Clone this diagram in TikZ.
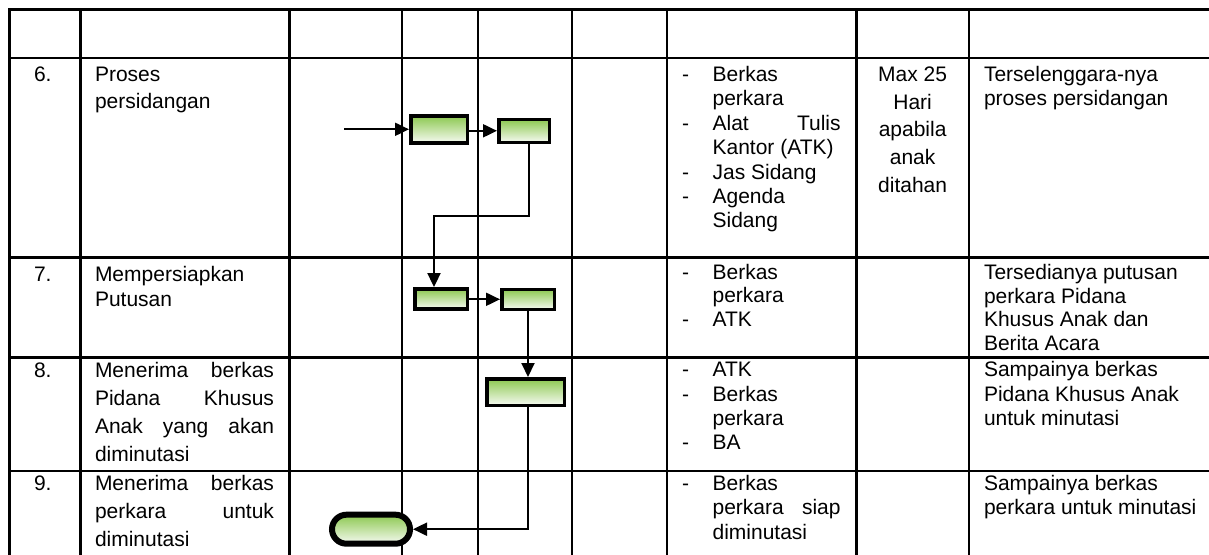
\documentclass[tikz,border=0pt]{standalone}
\usepackage{fontspec}
\setmainfont{Liberation Sans}
\usetikzlibrary{arrows.meta,shapes.misc}
\definecolor{boxgreen}{RGB}{140,200,80}
\definecolor{boxlight}{RGB}{246,250,242}
\tikzset{
  gridline/.style={line width=2.6pt, line cap=rect, line join=miter},
  txt/.style={anchor=base west, inner sep=0pt, outer sep=0pt},
  ctr/.style={anchor=base, inner sep=0pt, outer sep=0pt},
  procbox/.style={draw=black, line width=3.5pt, top color=boxgreen, bottom color=boxlight, inner sep=0pt},
  termbox/.style={draw=black, line width=6pt, top color=boxgreen, bottom color=boxlight, rounded rectangle, inner sep=0pt},
  conn/.style={line width=2pt, -{Triangle[length=14pt,width=13pt]}},
}
\begin{document}
\begin{tikzpicture}[x=1pt,y=-1pt,font=\fontsize{21}{24.5}\selectfont]
\useasboundingbox (0,0) rectangle (1209,554);
% table grid
\draw[gridline] (1215,9.3) -- (9.6,9.3) -- (9.6,560);
\foreach \yy in {58,257.3,357.3,471}{\draw[gridline] (9.6,\yy) -- (1215,\yy);}
\foreach \xx in {80.7,289.3,401.8,478,572,666.8,856.3,969}{\draw[gridline] (\xx,9.3) -- (\xx,560);}

% row 6
\node[txt] (n6) at (34,81.5) {6.};
\node[txt] (a6a) at (95,81.5) {Proses};
\node[txt] (a6b) at (95,108) {persidangan};
\node[txt] (d6a) at (682,81.5) {-};
\node[txt] (r6a) at (712.6,81.5) {Berkas};
\node[txt] (r6b) at (712.6,105.9) {perkara};
\node[txt] (d6b) at (682,130.3) {-};
\node[txt] (r6c) at (712.6,130.3) {\makebox[128pt][s]{Alat Tulis}};
\node[txt] (r6d) at (712.6,154.7) {Kantor (ATK)};
\node[txt] (d6c) at (682,179.1) {-};
\node[txt] (r6e) at (712.6,179.1) {Jas Sidang};
\node[txt] (d6d) at (682,203.5) {-};
\node[txt] (r6f) at (712.6,203.5) {Agenda};
\node[txt] (r6g) at (712.6,227.9) {Sidang};
\node[ctr] (m6a) at (912.6,81.5) {Max 25};
\node[ctr] (m6b) at (912.6,109) {Hari};
\node[ctr] (m6c) at (912.6,136.5) {apabila};
\node[ctr] (m6d) at (912.6,164) {anak};
\node[ctr] (m6e) at (912.6,192) {ditahan};
\node[txt] (o6a) at (984,81.5) {Terselenggara-nya};
\node[txt] (o6b) at (984,105.5) {proses persidangan};

% row 7
\node[txt] (n7) at (34,281) {7.};
\node[txt] (a7a) at (95,281) {Mempersiapkan};
\node[txt] (a7b) at (95,306.7) {Putusan};
\node[txt] (d7a) at (682,279.5) {-};
\node[txt] (r7a) at (712.6,279.5) {Berkas};
\node[txt] (r7b) at (712.6,302.8) {perkara};
\node[txt] (d7b) at (682,326) {-};
\node[txt] (r7c) at (712.6,326) {ATK};
\node[txt] (o7a) at (984,279.5) {Tersedianya putusan};
\node[txt] (o7b) at (984,303) {perkara Pidana};
\node[txt] (o7c) at (984,326.5) {Khusus Anak dan};
\node[txt] (o7d) at (984,350) {Berita Acara};

% row 8
\node[txt] (n8) at (34,377) {8.};
\node[txt] (a8a) at (95,377) {\makebox[179pt][s]{Menerima berkas}};
\node[txt] (a8b) at (95,405) {\makebox[179pt][s]{Pidana Khusus}};
\node[txt] (a8c) at (95,433) {\makebox[179pt][s]{Anak yang akan}};
\node[txt] (a8d) at (95,461) {diminutasi};
\node[txt] (d8a) at (682,376.7) {-};
\node[txt] (r8a) at (712.6,376.7) {ATK};
\node[txt] (d8b) at (682,401) {-};
\node[txt] (r8b) at (712.6,401) {Berkas};
\node[txt] (r8c) at (712.6,425.3) {perkara};
\node[txt] (d8c) at (682,449.6) {-};
\node[txt] (r8d) at (712.6,449.6) {BA};
\node[txt] (o8a) at (984,376.7) {Sampainya berkas};
\node[txt] (o8b) at (984,401) {Pidana Khusus Anak};
\node[txt] (o8c) at (984,425.3) {untuk minutasi};

% row 9
\node[txt] (n9) at (34,490) {9.};
\node[txt] (a9a) at (95,490) {\makebox[179pt][s]{Menerima berkas}};
\node[txt] (a9b) at (95,518) {\makebox[179pt][s]{perkara untuk}};
\node[txt] (a9c) at (95,546) {diminutasi};
\node[txt] (d9a) at (682,490) {-};
\node[txt] (r9a) at (712.6,490) {Berkas};
\node[txt] (r9b) at (712.6,514.5) {\makebox[128pt][s]{perkara siap}};
\node[txt] (r9c) at (712.6,539) {diminutasi};
\node[txt] (o9a) at (984,490) {Sampainya berkas};
\node[txt] (o9b) at (984,514.5) {perkara untuk minutasi};

% flow boxes
\node[procbox, minimum width=56.5pt, minimum height=27pt] (b1) at (439,129.3) {};
\node[procbox, minimum width=50.5pt, minimum height=23pt] (b2) at (524,130.8) {};
\node[procbox, minimum width=52.5pt, minimum height=20pt] (b3) at (441,298.8) {};
\node[procbox, minimum width=52.5pt, minimum height=20pt] (b4) at (528,299.3) {};
\node[procbox, minimum width=77.5pt, minimum height=26.5pt] (b5) at (525.5,392) {};
\node[termbox, minimum width=78pt, minimum height=29pt] (term) at (371,529.2) {};

\coordinate (start) at (344,129.3);
\coordinate (k1) at (529,216);
\coordinate (k2) at (434,216);
\coordinate (k3) at (527.5,529.2);

\draw[conn] (start) -- (b1);
\draw[conn] (b1.east |- b2) -- (b2.west);
\draw[conn] (b2.south -| k1) -- (k1) -- (k2) -- (k2 |- b3.north);
\draw[conn] (b3.east |- b4) -- (b4.west);
\draw[conn] (b4.south) -- (b4.south |- b5.north);
\draw[conn] (b5.south -| k3) -- (k3) -- (term.east);
\end{tikzpicture}
\end{document}
